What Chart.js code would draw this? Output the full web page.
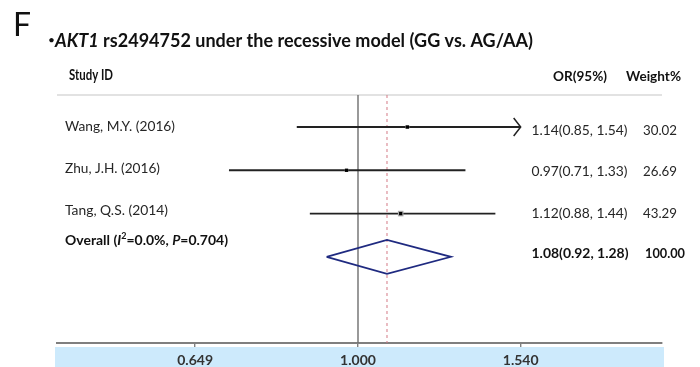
<!DOCTYPE html>
<html><head><meta charset="utf-8">
<style>html,body{margin:0;padding:0;background:#fff}#wrap{width:700px;height:367px}</style>
<script src="https://cdn.jsdelivr.net/npm/chart.js@4/dist/chart.umd.min.js"></script>
</head><body><div id="wrap"><canvas id="c" width="700" height="367"></canvas></div>
<script>
// Forest plot: AKT1 rs2494752, recessive model (GG vs. AG/AA)
const studies   = ['Wang, M.Y. (2016)', 'Zhu, J.H. (2016)', 'Tang, Q.S. (2014)'];
const oddsRatio = [1.14, 0.97, 1.12];
const ciLower   = [0.85, 0.71, 0.88];
const ciUpper   = [1.54, 1.33, 1.44];
const weights   = [30.02, 26.69, 43.29];
const arrowUpper = [true, false, false];

const pooledOR = 1.08, pooledLower = 0.92, pooledUpper = 1.28, pooledWeight = 100.00;
const hetI2 = '0.0%', hetP = '0.704';
const xTicks = [0.649, 1.000, 1.540];

const rows = studies.map((_, i) => i + 1);
const pooledRow = studies.length + 1;
const Y_MIN = 0.26, Y_MAX = 5.99;
const FONT = 'Lato, "Open Sans", sans-serif';

const fmt2 = v => v.toFixed(2);
const orText = (o, l, u) => `${fmt2(o)}(${fmt2(l)}, ${fmt2(u)})`;

const datasets = [];
// line of no effect
datasets.push({
  data: [{x: 1, y: Y_MIN}, {x: 1, y: Y_MAX}], order: 5,
  showLine: true, borderColor: '#6f6f6f', borderWidth: 1.4, pointRadius: 0
});
// pooled estimate reference
datasets.push({
  data: [{x: pooledOR, y: Y_MIN}, {x: pooledOR, y: Y_MAX}], order: 4,
  showLine: true, borderColor: '#d47a86', borderWidth: 1, borderDash: [3, 3], pointRadius: 0
});
// confidence intervals
rows.forEach((r, i) => datasets.push({
  data: [{x: ciLower[i], y: r}, {x: ciUpper[i], y: r}], order: 3,
  showLine: true, borderColor: '#222', borderWidth: 1.9, pointRadius: 0
}));
// pooled diamond
datasets.push({
  data: [{x: pooledLower, y: pooledRow}, {x: pooledOR, y: pooledRow - 0.39},
         {x: pooledUpper, y: pooledRow}, {x: pooledOR, y: pooledRow + 0.39},
         {x: pooledLower, y: pooledRow}], order: 2,
  showLine: true, borderColor: '#1f2a80', borderWidth: 1.7, pointRadius: 0, tension: 0
});
// weight boxes
datasets.push({
  data: rows.map((r, i) => ({x: oddsRatio[i], y: r})), order: 1,
  pointStyle: 'rect', pointRadius: weights.map(w => w / 11),
  backgroundColor: '#a8a8a8', borderWidth: 0
});
// point estimates
datasets.push({
  data: rows.map((r, i) => ({x: oddsRatio[i], y: r})), order: 0,
  pointStyle: 'rect', pointRadius: 2.3, backgroundColor: '#000', borderWidth: 0
});

// draw text segments, squeezed/stretched horizontally to a given width
function drawSegs(ctx, segs, x, base, width, color) {
  let total = 0;
  segs.forEach(s => {
    ctx.font = `${s.italic ? 'italic ' : ''}${s.bold ? 'bold ' : ''}${s.size}px ${FONT}`;
    s.w = ctx.measureText(s.t).width; total += s.w;
  });
  const k = width ? width / total : 1;
  ctx.save();
  ctx.translate(x, base); ctx.scale(k, 1);
  ctx.fillStyle = color; ctx.textBaseline = 'alphabetic'; ctx.textAlign = 'left';
  let cx = 0;
  segs.forEach(s => {
    ctx.font = `${s.italic ? 'italic ' : ''}${s.bold ? 'bold ' : ''}${s.size}px ${FONT}`;
    ctx.fillText(s.t, cx, s.dy || 0); cx += s.w;
  });
  ctx.restore();
}
const seg = (t, size, bold, italic, dy) => ({t, size, bold, italic, dy});

const decor = {
  id: 'decor',
  beforeDraw(chart) {
    const {ctx, chartArea: a} = chart;
    ctx.save();
    ctx.fillStyle = '#cdeafc';
    ctx.fillRect(a.left - 2, a.bottom + 4, a.right - a.left + 4, 367 - a.bottom - 4);
    ctx.strokeStyle = '#d9d9d9'; ctx.lineWidth = 1.5;
    ctx.beginPath(); ctx.moveTo(a.left, a.top); ctx.lineTo(a.right, a.top); ctx.stroke();
    ctx.restore();
  },
  afterDatasetsDraw(chart) {
    const {ctx, scales: {x, y}} = chart;
    ctx.save();
    ctx.strokeStyle = '#222'; ctx.lineWidth = 1.5;
    rows.forEach((r, i) => {
      if (!arrowUpper[i]) return;
      const px = x.getPixelForValue(ciUpper[i]), py = y.getPixelForValue(r);
      ctx.beginPath(); ctx.moveTo(px - 7, py - 9); ctx.lineTo(px, py); ctx.lineTo(px - 7, py + 9); ctx.stroke();
    });
    ctx.restore();
  },
  afterDraw(chart) {
    const {ctx, scales: {y}} = chart;
    const dark = '#111';
    drawSegs(ctx, [seg('F', 33, false)], 13, 36, 18, dark);
    drawSegs(ctx, [seg('•', 12, false, false, -3), seg('AKT1', 18, true, true),
      seg(' rs2494752 under the recessive model (GG vs. AG/AA)', 18, true)], 48, 47, 485, dark);
    drawSegs(ctx, [seg('Study ID', 15, true)], 69, 80, 44, dark);
    drawSegs(ctx, [seg('OR(95%)', 14, true)], 553, 81, 54, dark);
    drawSegs(ctx, [seg('Weight%', 14, true)], 626, 81, 55, dark);
    const lw = [110, 95, 103];
    rows.forEach((r, i) => {
      const py = y.getPixelForValue(r);
      drawSegs(ctx, [seg(studies[i], 14, false)], 65, py + 4 - i * 1.3, lw[i], '#262626');
      drawSegs(ctx, [seg(orText(oddsRatio[i], ciLower[i], ciUpper[i]), 14, false)], 531.5, py + 7.5 - i * 1.5, 96, '#262626');
      drawSegs(ctx, [seg(fmt2(weights[i]), 14, false)], 643, py + 7.5 - i * 1.5, 34, '#262626');
    });
    const pp = y.getPixelForValue(pooledRow);
    drawSegs(ctx, [seg('Overall (', 14, true), seg('I', 14, true, true), seg('2', 9, true, false, -6),
      seg('=' + hetI2 + ', ', 14, true), seg('P', 14, true, true), seg('=' + hetP + ')', 14, true)],
      65, pp - 12, 163, dark);
    drawSegs(ctx, [seg(orText(pooledOR, pooledLower, pooledUpper), 14, true)], 531.5, pp + 1.5, 97, dark);
    drawSegs(ctx, [seg(fmt2(pooledWeight), 14, true)], 645, pp + 1.5, 40, dark);
  }
};

new Chart(document.getElementById('c'), {
  type: 'scatter',
  data: {datasets},
  plugins: [decor],
  options: {
    responsive: false, animation: false,
    layout: {padding: {left: 57, right: 38, top: 95, bottom: 0}},
    plugins: {legend: {display: false}, tooltip: {enabled: false}},
    scales: {
      x: {
        type: 'logarithmic', min: 0.4498, max: 2.241,
        afterBuildTicks: s => { s.ticks = xTicks.map(v => ({value: v})); },
        afterFit: s => { s.height = 24; },
        ticks: {callback: v => Number(v).toFixed(3), autoSkip: false, maxRotation: 0,
                font: {family: FONT, size: 14, weight: 'bold'}, color: '#333', padding: 5},
        grid: {drawOnChartArea: false, drawTicks: true, tickLength: 4, color: '#7f7f7f', lineWidth: 1.4},
        border: {display: true, color: '#7f7f7f', width: 2}
      },
      y: {type: 'linear', reverse: true, min: Y_MIN, max: Y_MAX, display: false}
    }
  }
});
</script></body></html>
